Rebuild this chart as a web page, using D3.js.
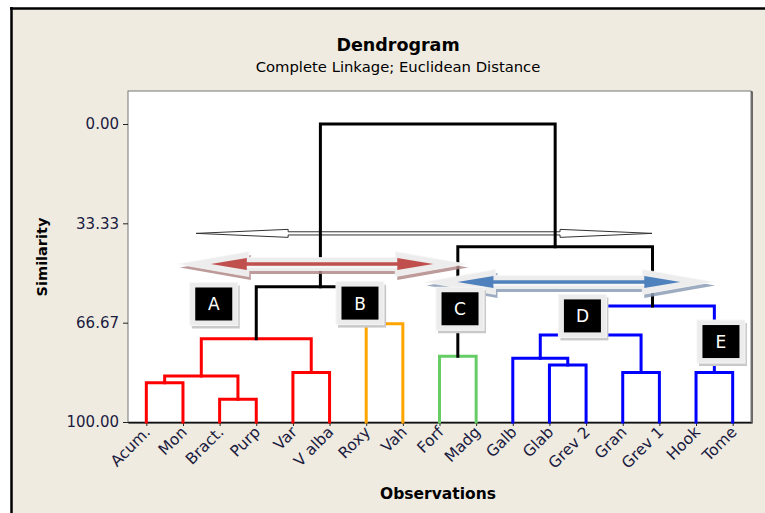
<!DOCTYPE html>
<html><head><meta charset="utf-8">
<script src="https://cdn.jsdelivr.net/npm/d3@7"></script>
<style>html,body{margin:0;padding:0;background:#fff;} svg{display:block}</style>
</head><body><svg id="c" width="765" height="513"></svg>
<script>
// ---------------- data ----------------
const leaves = ["Acum.","Mon","Bract.","Purp","Var","V alba","Roxy","Vah","Forf","Madg","Galb","Glab","Grev 2","Gran","Grev 1","Hook","Tome"];
// merges: leaves are nodes 0..16, merge k creates node 17+k
const mergeLeft  = [0, 2, 17, 4, 19, 6, 21, 8, 11, 10, 13, 26, 15, 28, 24, 23];
const mergeRight = [1, 3, 18, 5, 20, 7, 22, 9, 12, 25, 14, 27, 16, 29, 30, 31];
const mergeSim   = [86.8, 92.4, 84.6, 83.4, 72.1, 67.0, 54.6, 77.9, 80.9, 78.6, 83.4, 70.8, 83.4, 61.1, 41.2, 0.0];
const mergeGroup = ["A","A","A","A","A","B","top","C","D","D","D","D","E","D","top","top"];
const yTicks = [0, 33.33, 66.67, 100];
const yTickLabels = ["0.00","33.33","66.67","100.00"];
const boxLabels = ["A","B","C","D","E"];
const boxPos = [[1.84,60.4],[5.83,60.1],[8.56,62.0],[11.9,64.4],[15.68,73.0]]; // [leaf index, similarity]
// arrows: [inner tip left (leaf idx), inner tip right (leaf idx), similarity]
const thinArrow = [1.36, 13.80, 36.7];
const redArrow  = [1.76, 7.83, 47.0];
const blueArrow = [8.49, 14.57, 53.0];

// ---------------- layout ----------------
const svg = d3.select("#c");
const W = 765, H = 513;
const plot = {l:128, t:91, r:751, b:422};
const groupColor = {A:"#FF0000", B:"#FFA500", C:"#66CC66", D:"#0000FF", E:"#0000FF", top:"#000000"};
const textCol = "#1b1b3f";
const FONT = "'DejaVu Sans', Verdana, sans-serif";

// background + frame
svg.append("rect").attr("width",W).attr("height",H).attr("fill","#fff");
svg.append("rect").attr("x",11).attr("y",8).attr("width",W).attr("height",H).attr("fill","#EFEBE1");
svg.append("line").attr("x1",11.5).attr("x2",11.5).attr("y1",7).attr("y2",H).attr("stroke","#000").attr("stroke-width",2.5);
svg.append("line").attr("x1",10).attr("x2",W).attr("y1",8.5).attr("y2",8.5).attr("stroke","#000").attr("stroke-width",2.5);

// plot area
svg.append("rect").attr("x",plot.l+1).attr("y",plot.t+1).attr("width",plot.r-plot.l).attr("height",plot.b-plot.t).attr("fill","none").attr("stroke","#111").attr("stroke-width",1.2);
svg.append("rect").attr("x",plot.l).attr("y",plot.t).attr("width",plot.r-plot.l).attr("height",plot.b-plot.t).attr("fill","#fff").attr("stroke","#777").attr("stroke-width",1);

const x = d3.scalePoint().domain(leaves).range([plot.l, plot.r]).padding(0.5);
const xi = d3.scaleLinear().domain([0, leaves.length-1]).range([x(leaves[0]), x(leaves[leaves.length-1])]);
const y = d3.scaleLinear().domain([0,100]).range([124, plot.b]);

// titles
svg.append("text").attr("x",398).attr("y",51).attr("text-anchor","middle").attr("font-family",FONT).attr("font-weight","bold").attr("font-size",17.5).attr("fill","#000").text("Dendrogram");
svg.append("text").attr("x",398).attr("y",72).attr("text-anchor","middle").attr("font-family",FONT).attr("font-size",14.8).attr("fill","#000").text("Complete Linkage; Euclidean Distance");

// y axis
const yAxis = d3.axisLeft(y).tickValues(yTicks).tickFormat((d,i)=>yTickLabels[i]).tickSize(5).tickPadding(4);
const gy = svg.append("g").attr("transform",`translate(${plot.l},0)`).call(yAxis);
gy.select(".domain").remove();
gy.selectAll("line").attr("stroke","#222");
gy.selectAll("text").attr("font-family",FONT).attr("font-size",15).attr("fill",textCol);

// x axis
const xAxis = d3.axisBottom(x).tickSize(4).tickFormat("");
const gx = svg.append("g").attr("transform",`translate(0,${plot.b})`).call(xAxis);
gx.select(".domain").remove();
gx.selectAll("line").attr("stroke","#222");
svg.append("line").attr("x1",plot.l).attr("x2",plot.r).attr("y1",plot.b+0.5).attr("y2",plot.b+0.5).attr("stroke","#111");

svg.append("g").selectAll("text").data(leaves).join("text")
  .attr("transform",d=>`translate(${x(d)+5},${plot.b+11}) rotate(-45)`)
  .attr("text-anchor","end").attr("font-family",FONT).attr("font-size",15.5).attr("fill",textCol)
  .text(d=>d);

svg.append("text").attr("transform",`translate(47,257) rotate(-90)`).attr("text-anchor","middle")
  .attr("font-family",FONT).attr("font-weight","bold").attr("font-size",14.5).attr("fill","#000").text("Similarity");
svg.append("text").attr("x",438).attr("y",499).attr("text-anchor","middle")
  .attr("font-family",FONT).attr("font-weight","bold").attr("font-size",15.5).attr("fill","#000").text("Observations");

// ---------------- dendrogram geometry ----------------
const nodeX = leaves.map((d,i)=>x(d));
const nodeSim = leaves.map(()=>100);
mergeSim.forEach((s,k)=>{
  const a = mergeLeft[k], b = mergeRight[k];
  nodeX.push((nodeX[a]+nodeX[b])/2);
  nodeSim.push(s);
});

// thin outlined arrow (behind the tree)
(function(){
  const [a,b,s] = thinArrow;
  const x1 = xi(a), x2 = xi(b), yc = y(s);
  const hl = 92, hh = 4, sh = 1.6;
  const pts = [[x1,yc],[x1+hl,yc-hh],[x1+hl,yc-sh],[x2-hl,yc-sh],[x2-hl,yc-hh],[x2,yc],[x2-hl,yc+hh],[x2-hl,yc+sh],[x1+hl,yc+sh],[x1+hl,yc+hh]];
  svg.append("polygon").attr("points",pts.map(p=>p.join(",")).join(" "))
    .attr("fill","#fff").attr("stroke","#333").attr("stroke-width",1).attr("stroke-linejoin","miter");
})();

const gTree = svg.append("g").attr("fill","none").attr("stroke-width",3).attr("stroke-linecap","square");
mergeSim.forEach((s,k)=>{
  const a = mergeLeft[k], b = mergeRight[k];
  const xa = nodeX[a], xb = nodeX[b];
  const p = d3.path();
  p.moveTo(xa, y(nodeSim[a]));
  p.lineTo(xa, y(s));
  p.lineTo(xb, y(s));
  p.lineTo(xb, y(nodeSim[b]));
  gTree.append("path").attr("d",p.toString()).attr("stroke",groupColor[mergeGroup[k]]).attr("stroke-linejoin","miter");
});

// glossy double arrows
function glossy(spec, inner, shadow){
  const [a,b,s] = spec;
  const x1 = xi(a), x2 = xi(b), yc = y(s);
  const g = svg.append("g");
  const ext = 33, ohl = 71, ohh = 12.5, osh = 6.5;
  const ox1 = x1-ext, ox2 = x2+ext;
  const outer = (dx,dy)=>[[ox1,yc],[ox1+ohl,yc-ohh],[ox1+ohl,yc-osh],[ox2-ohl,yc-osh],[ox2-ohl,yc-ohh],[ox2,yc],[ox2-ohl,yc+ohh],[ox2-ohl,yc+osh],[ox1+ohl,yc+osh],[ox1+ohl,yc+ohh]]
      .map(p=>[p[0]+dx,p[1]+dy].join(",")).join(" ");
  g.append("polygon").attr("points",outer(2,3.5)).attr("fill",shadow).attr("opacity",0.85);
  g.append("polygon").attr("points",outer(0,0)).attr("fill","#EDEDED").attr("stroke","#f8f8f8").attr("stroke-width",0.8);
  const ihl = 36, ihh = 6, ish = 1.8;
  const ip = [[x1,yc],[x1+ihl,yc-ihh],[x1+ihl,yc-ish],[x2-ihl,yc-ish],[x2-ihl,yc-ihh],[x2,yc],[x2-ihl,yc+ihh],[x2-ihl,yc+ish],[x1+ihl,yc+ish],[x1+ihl,yc+ihh]];
  g.append("polygon").attr("points",ip.map(p=>p.join(",")).join(" ")).attr("fill",inner);
  g.append("line").attr("x1",x1+ihl).attr("x2",x2-ihl).attr("y1",yc+ish+1.2).attr("y2",yc+ish+1.2).attr("stroke","#fff").attr("stroke-width",1);
}
glossy(redArrow, "#C0504D", "#B08A88");
glossy(blueArrow, "#4F81BD", "#8C9DB5");

// letter boxes
const gBox = svg.append("g");
boxLabels.forEach((lab,i)=>{
  const cx = xi(boxPos[i][0]), cy = y(boxPos[i][1]);
  const ow = 48, oh = 43, iw = 37, ih = 33;
  gBox.append("rect").attr("x",cx-ow/2+2).attr("y",cy-oh/2+3).attr("width",ow).attr("height",oh).attr("fill","#c9c9c9");
  gBox.append("rect").attr("x",cx-ow/2).attr("y",cy-oh/2).attr("width",ow).attr("height",oh).attr("fill","#ECECEC").attr("stroke","#f6f6f6");
  gBox.append("rect").attr("x",cx-iw/2).attr("y",cy-ih/2).attr("width",iw).attr("height",ih).attr("fill","#000");
  gBox.append("text").attr("x",cx).attr("y",cy+6.5).attr("text-anchor","middle").attr("font-family",FONT)
    .attr("font-size",17).attr("fill","#fff").text(lab);
});
</script></body></html>
